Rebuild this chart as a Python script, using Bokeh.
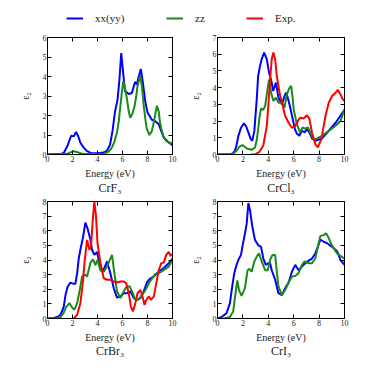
from bokeh.plotting import figure
from bokeh.layouts import column, row
from bokeh.models import Range1d, LinearAxis, FixedTicker, Legend, LegendItem, Title
from bokeh.embed import file_html
from bokeh.resources import INLINE

FONT = "Liberation Serif"
BLUE = "#0000ff"
GREEN = "#1a8a1a"
RED = "#ff0000"

series_labels = ["xx(yy)", "zz", "Exp."]
x_ticks = [0, 2, 4, 6, 8, 10]

# ---- CrF3 ----
crf3_xx_e = [0, 1.0, 1.3, 1.6, 1.89, 2.1, 2.29, 2.45, 2.63, 2.9, 3.16, 3.5, 4.0, 4.5, 4.76, 5.0, 5.2, 5.4, 5.6, 5.75, 5.9, 6.05, 6.2, 6.5, 6.75, 7.0, 7.15, 7.3, 7.47, 7.65, 7.8, 8.0, 8.35, 8.6, 8.9, 9.1, 9.3, 9.7, 10]
crf3_xx = [0, 0.02, 0.08, 0.45, 0.96, 0.93, 1.16, 0.95, 0.6, 0.35, 0.17, 0.07, 0.06, 0.1, 0.2, 0.5, 1.2, 2.2, 2.8, 3.8, 5.2, 4.2, 3.25, 3.1, 3.15, 3.72, 3.6, 4.0, 4.38, 3.6, 2.8, 2.15, 1.78, 1.72, 1.55, 1.2, 0.87, 0.62, 0.48]
crf3_zz_e = [0, 1.5, 1.8, 2.1, 2.4, 2.7, 3.0, 4.5, 4.9, 5.15, 5.35, 5.55, 5.7, 5.8, 5.95, 6.06, 6.2, 6.36, 6.5, 6.62, 6.8, 6.97, 7.1, 7.2, 7.42, 7.55, 7.7, 7.85, 7.95, 8.16, 8.35, 8.5, 8.75, 8.9, 9.0, 9.15, 9.3, 9.5, 9.68, 10]
crf3_zz = [0, 0.02, 0.1, 0.17, 0.12, 0.05, 0.02, 0.03, 0.15, 0.35, 0.65, 1.1, 1.7, 2.3, 3.2, 3.76, 3.4, 2.84, 2.2, 1.88, 2.1, 2.5, 3.0, 3.5, 4.07, 3.5, 2.5, 1.7, 1.3, 1.0, 1.2, 1.64, 2.5, 2.2, 1.64, 1.2, 0.87, 0.7, 0.62, 0.58]

# ---- CrCl3 ----
crcl3_xx_e = [0, 1.0, 1.2, 1.37, 1.5, 1.64, 1.85, 2.08, 2.25, 2.43, 2.6, 2.74, 2.9, 3.09, 3.2, 3.35, 3.48, 3.67, 3.88, 4.06, 4.27, 4.38, 4.6, 4.8, 5.07, 5.33, 5.43, 5.7, 5.9, 6.1, 6.25, 6.44, 6.65, 6.86, 7.04, 7.23, 7.44, 7.7, 8.23, 8.76, 9.3, 10]
crcl3_xx = [0, 0.02, 0.06, 0.22, 0.55, 1.1, 1.6, 1.86, 1.7, 1.32, 0.95, 0.82, 1.4, 3.3, 4.7, 5.3, 5.7, 6.1, 5.7, 4.9, 4.3, 3.8, 4.3, 3.4, 3.0, 3.6, 3.7, 2.9, 2.2, 1.5, 1.25, 1.12, 1.42, 1.32, 1.52, 1.32, 0.96, 0.82, 0.96, 1.42, 1.9, 2.67]
crcl3_zz_e = [0, 1.2, 1.5, 1.7, 1.95, 2.1, 2.3, 2.7, 2.95, 3.1, 3.2, 3.3, 3.43, 3.6, 3.75, 3.9, 4.06, 4.22, 4.4, 4.6, 4.8, 5.07, 5.28, 5.46, 5.65, 5.8, 5.9, 6.0, 6.25, 6.5, 6.7, 6.9, 7.12, 7.3, 7.57, 7.83, 8.23, 8.6, 9.3, 9.68, 10]
crcl3_zz = [0, 0.03, 0.22, 0.45, 0.56, 0.5, 0.36, 0.28, 0.42, 0.9, 1.5, 2.2, 2.75, 2.67, 2.9, 3.7, 4.5, 3.7, 3.2, 3.4, 3.1, 3.1, 2.8, 3.6, 3.95, 4.1, 3.5, 2.7, 1.8, 1.32, 1.62, 1.55, 1.62, 1.32, 0.88, 0.96, 1.12, 1.32, 1.72, 2.0, 2.7]
crcl3_exp_e = [2.6, 3.0, 3.3, 3.6, 3.88, 4.0, 4.14, 4.27, 4.4, 4.54, 4.67, 4.8, 4.93, 5.07, 5.2, 5.33, 5.6, 5.86, 6.12, 6.33, 6.5, 6.78, 7.04, 7.23, 7.44, 7.7, 7.9, 8.18, 8.5, 8.76, 9.02, 9.3, 9.47, 9.68, 9.87, 10]
crcl3_exp = [0.0, 0.02, 0.15, 0.52, 1.7, 2.9, 4.5, 5.7, 6.1, 5.7, 4.7, 4.1, 3.5, 3.2, 2.7, 2.3, 1.9, 1.6, 1.7, 2.0, 2.2, 2.15, 2.35, 2.15, 1.32, 0.62, 0.42, 0.92, 2.3, 3.1, 3.5, 3.7, 3.87, 3.6, 3.3, 3.2]

# ---- CrBr3 ----
crbr3_xx_e = [0, 0.5, 0.77, 1.04, 1.3, 1.44, 1.62, 1.84, 2.1, 2.23, 2.37, 2.5, 2.63, 2.85, 3.03, 3.2, 3.43, 3.56, 3.75, 3.96, 4.15, 4.36, 4.55, 4.76, 5.03, 5.3, 5.56, 5.84, 6.1, 6.37, 6.64, 6.9, 7.17, 7.44, 7.7, 7.97, 8.24, 8.5, 8.9, 9.3, 9.7, 10]
crbr3_xx = [0, 0.03, 0.1, 0.25, 0.8, 1.6, 2.2, 2.45, 2.37, 2.37, 3.1, 4.1, 4.7, 5.6, 6.56, 6.17, 5.4, 4.7, 4.35, 4.55, 3.8, 3.2, 3.45, 3.9, 3.1, 2.07, 1.43, 1.5, 1.73, 1.73, 1.85, 1.4, 1.28, 1.4, 1.85, 2.5, 2.75, 2.87, 3.2, 3.45, 3.78, 4.1]
crbr3_zz_e = [0, 0.8, 1.04, 1.3, 1.5, 1.76, 1.97, 2.16, 2.37, 2.58, 2.77, 2.98, 3.17, 3.43, 3.64, 3.83, 4.0, 4.23, 4.5, 4.76, 5.03, 5.16, 5.35, 5.56, 5.84, 6.1, 6.3, 6.57, 6.76, 7.03, 7.3, 7.57, 7.84, 8.1, 8.37, 8.63, 8.9, 9.3, 9.7, 10]
crbr3_zz = [0, 0.03, 0.1, 0.4, 0.8, 1.05, 0.75, 0.6, 1.05, 1.95, 2.87, 3.0, 2.87, 3.8, 4.05, 3.65, 4.0, 3.3, 3.2, 3.55, 4.1, 4.35, 3.1, 1.85, 1.4, 1.85, 2.15, 2.2, 1.85, 1.28, 1.32, 1.62, 1.95, 2.4, 2.75, 3.05, 3.1, 3.3, 3.55, 4.0]
crbr3_exp_e = [2.1, 2.37, 2.63, 2.82, 2.98, 3.17, 3.35, 3.48, 3.64, 3.75, 3.88, 4.0, 4.23, 4.5, 4.76, 5.03, 5.3, 5.56, 5.84, 6.1, 6.3, 6.5, 6.67, 6.83, 7.03, 7.2, 7.44, 7.6, 7.76, 7.9, 8.1, 8.27, 8.5, 8.7, 8.9, 9.1, 9.3, 9.5, 9.7, 9.85, 10]
crbr3_exp = [0.0, 0.25, 1.05, 2.4, 4.0, 5.37, 4.7, 4.9, 6.97, 8.0, 7.0, 5.15, 3.8, 2.75, 2.65, 2.65, 2.53, 2.46, 2.53, 2.53, 2.4, 1.73, 0.82, 0.48, 1.05, 1.73, 1.95, 1.5, 0.93, 1.28, 1.5, 1.28, 1.5, 2.4, 3.3, 3.78, 3.82, 4.35, 4.55, 4.28, 4.4]

# ---- CrI3 ----
cri3_xx_e = [0, 0.32, 0.71, 0.98, 1.16, 1.32, 1.5, 1.64, 1.85, 1.98, 2.16, 2.3, 2.43, 2.56, 2.74, 2.95, 3.22, 3.43, 3.61, 3.8, 4.0, 4.14, 4.27, 4.54, 4.8, 5.07, 5.33, 5.6, 5.86, 6.12, 6.38, 6.65, 6.9, 7.18, 7.44, 7.7, 7.9, 8.1, 8.36, 8.63, 9.02, 9.42, 9.68, 10]
cri3_xx = [0, 0.1, 0.36, 1.05, 2.2, 3.1, 3.67, 4.0, 4.35, 5.0, 5.8, 6.5, 7.9, 7.4, 6.3, 5.37, 5.0, 4.9, 4.1, 3.67, 3.78, 3.78, 3.3, 2.65, 1.73, 1.6, 2.07, 2.46, 3.2, 3.67, 3.3, 3.55, 3.78, 3.96, 4.1, 4.45, 4.9, 5.4, 5.25, 5.15, 4.9, 4.6, 4.0, 3.67]
cri3_zz_e = [0, 0.58, 0.98, 1.24, 1.42, 1.56, 1.69, 1.9, 2.16, 2.37, 2.5, 2.69, 2.9, 3.09, 3.27, 3.48, 3.75, 3.96, 4.14, 4.33, 4.54, 4.67, 4.8, 5.07, 5.33, 5.6, 5.86, 6.12, 6.38, 6.65, 6.86, 7.18, 7.44, 7.7, 7.9, 8.1, 8.36, 8.55, 8.76, 9.02, 9.42, 9.68, 10]
cri3_zz = [0, 0.02, 0.1, 0.5, 1.73, 2.6, 1.95, 1.55, 2.07, 3.3, 3.4, 3.2, 3.9, 4.23, 4.45, 3.9, 3.3, 3.3, 4.0, 4.35, 4.35, 3.2, 2.2, 1.62, 1.95, 2.46, 2.87, 2.9, 3.1, 3.67, 3.9, 3.78, 3.78, 4.1, 4.9, 5.65, 5.7, 5.83, 5.5, 4.97, 4.45, 4.28, 4.1]


def style_axis(ax, show_labels, ticks):
    ax.axis_line_color = "black"
    ax.axis_line_width = 1
    ax.major_tick_in = 4
    ax.major_tick_out = 0
    ax.major_tick_line_color = "black"
    ax.minor_tick_line_color = None
    ax.major_label_text_font = FONT
    ax.major_label_text_color = "#222222"
    ax.axis_label_text_font = FONT
    ax.axis_label_text_font_style = "normal"
    ax.axis_label_text_color = "#222222"
    if show_labels:
        ax.major_label_text_font_size = "8px"
        ax.major_label_standoff = 1
    else:
        ax.major_label_text_font_size = "1px"
        ax.major_label_standoff = 0
        ax.major_label_overrides = {t: "" for t in ticks}


def make_panel(name, ymax, curves, b_left, b_right, b_top, b_bottom, fw, t_standoff):
    p = figure(frame_width=fw, frame_height=117, x_range=Range1d(0, 10),
               y_range=Range1d(0, ymax), output_backend="svg", toolbar_location=None,
               min_border_left=b_left, min_border_right=b_right,
               min_border_top=b_top, min_border_bottom=b_bottom,
               outline_line_color="black", background_fill_color="white",
               border_fill_color="white")
    p.grid.visible = False
    for xs, ys, c in curves:
        p.line(xs, ys, line_color=c, line_width=2)
    p.add_layout(LinearAxis(), "right")
    p.add_layout(LinearAxis(), "above")
    y_ticks = list(range(0, ymax + 1))
    yt = FixedTicker(ticks=y_ticks)
    xt = FixedTicker(ticks=x_ticks)
    for ax in p.yaxis:
        ax.ticker = yt
    for ax in p.xaxis:
        ax.ticker = xt
    style_axis(p.left[0], True, y_ticks)
    style_axis(p.below[0], True, x_ticks)
    style_axis(p.right[0], False, y_ticks)
    style_axis(p.above[0], False, x_ticks)
    p.left[0].axis_label = "ε₂"
    p.left[0].axis_label_text_font_size = "10px"
    p.left[0].axis_label_standoff = 9
    p.below[0].axis_label = "Energy (eV)"
    p.below[0].axis_label_text_font_size = "10px"
    p.below[0].axis_label_standoff = 3
    p.add_layout(Title(text=name, align="center", text_font=FONT, text_font_size="12px",
                       text_font_style="normal", text_color="#222222", standoff=t_standoff,
                       offset=0), "below")
    return p


f1 = make_panel("CrF₃", 6, [(crf3_xx_e, crf3_xx, BLUE), (crf3_zz_e, crf3_zz, GREEN)],
                47, 14, 6, 43, 125, -6)
f2 = make_panel("CrCl₃", 7, [(crcl3_xx_e, crcl3_xx, BLUE), (crcl3_zz_e, crcl3_zz, GREEN),
                             (crcl3_exp_e, crcl3_exp, RED)], 24, 10, 6, 43, 127, -6)
f3 = make_panel("CrBr₃", 8, [(crbr3_xx_e, crbr3_xx, BLUE), (crbr3_zz_e, crbr3_zz, GREEN),
                             (crbr3_exp_e, crbr3_exp, RED)], 47, 14, 4, 42, 125, -7)
f4 = make_panel("CrI₃", 8, [(cri3_xx_e, cri3_xx, BLUE), (cri3_zz_e, cri3_zz, GREEN)],
                24, 10, 4, 42, 127, -7)

# legend strip (series drawn off-screen so that only their legend glyphs show)
lf = figure(width=347, height=31, x_range=Range1d(0, 10), y_range=Range1d(-20, -10),
            output_backend="svg", toolbar_location=None, min_border=0,
            x_axis_location=None, y_axis_location=None, outline_line_color=None)
lf.grid.visible = False
r_blue = lf.line(x=crcl3_xx_e, y=crcl3_xx, line_color=BLUE, line_width=2)
r_green = lf.line(x=crcl3_zz_e, y=crcl3_zz, line_color=GREEN, line_width=2)
r_red = lf.line(x=crcl3_exp_e, y=crcl3_exp, line_color=RED, line_width=2)
for lab, rend, xpos in zip(series_labels, [r_blue, r_green, r_red], [66, 166, 246]):
    leg = Legend(items=[LegendItem(label=lab, renderers=[rend])],
                 orientation="horizontal", location=(xpos, 6), glyph_width=17, glyph_height=14,
                 label_height=14, label_standoff=12, padding=0, margin=0,
                 border_line_color=None, background_fill_alpha=0,
                 label_text_font=FONT, label_text_font_size="11px", label_text_color="#222222")
    lf.add_layout(leg, "center")

layout = column(lf, row(f1, f2), row(f3, f4))

open("out.html", "w").write(file_html(layout, INLINE))
